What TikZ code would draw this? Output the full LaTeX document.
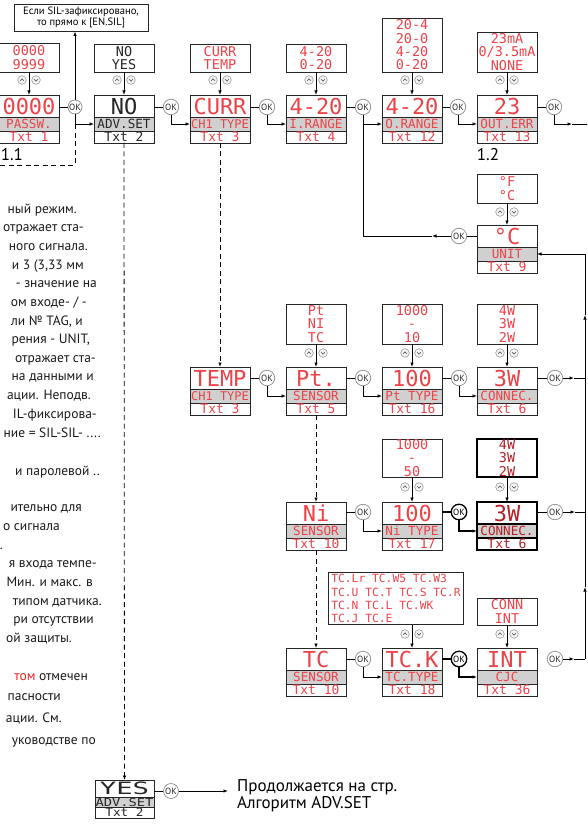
\documentclass[tikz,border=0pt]{standalone}
\usepackage{fontspec}
\usepackage{graphicx}
\setmainfont{PT Sans}
\newfontfamily\lcd{DejaVu Sans Mono}
\usetikzlibrary{arrows.meta}
\definecolor{lcdred}{RGB}{236,66,72}
\definecolor{darkred}{RGB}{180,32,40}
\definecolor{band}{RGB}{208,208,208}
\definecolor{hired}{RGB}{236,32,40}

\tikzset{
 bx/.style={draw=black!85,line width=0.9pt},
 valbox/.style={bx,minimum width=60pt,minimum height=22pt,inner sep=0pt,outer sep=0pt,anchor=north,text=lcdred,font=\lcd\fontsize{22}{22}\selectfont},
 labbox/.style={bx,fill=band,minimum width=60pt,minimum height=14pt,inner sep=0pt,outer sep=0pt,anchor=north,text=lcdred,font=\lcd\fontsize{12.6}{12.6}\selectfont},
 txtbox/.style={bx,minimum width=60pt,minimum height=12pt,inner sep=0pt,outer sep=0pt,anchor=north,text=lcdred,font=\lcd\fontsize{13}{13}\selectfont},
 optbox/.style={bx,minimum width=60pt,inner sep=0pt,outer sep=0pt,anchor=south,align=center,text=lcdred,font=\lcd\fontsize{13.5}{13.3}\selectfont},
 okc/.style={circle,draw=black!45,fill=white,minimum size=15.5pt,inner sep=0pt,line width=0.7pt,font=\fontsize{9}{9}\selectfont,text=black!85},
 okb/.style={okc,draw=black,line width=1.3pt,text=black},
 conn/.style={draw=black,line width=0.8pt},
 arr/.style={conn,-{Latex[length=4.5pt,width=3.5pt]}},
 dsh/.style={conn,dash pattern=on 5pt off 3.5pt},
 darr/.style={dsh,-{Latex[length=4.5pt,width=3.5pt]}},
 icon/.style={draw=black!40,fill=black!4,line width=0.6pt},
 chev/.style={draw=black!65,line width=0.6pt},
 body/.style={font=\fontsize{13.5}{13.5}\selectfont,anchor=mid east,inner sep=0pt,text=black!90},
}

\newcommand\dispbox[7][]{%
 \node[valbox,#1] (#2) at (#3,#4) {#5};
 \node[labbox,#1] (#2l) at (#2.south) {#6};
 \node[txtbox,#1] (#2t) at (#2l.south) {#7};
}
\newcommand\updn[2]{%
 \draw[icon] ({#1-7},#2) circle[radius=4.3pt];
 \draw[icon] ({#1+7},#2) circle[radius=4.3pt];
 \draw[chev] ({#1-9},{#2+1}) -- ({#1-7},{#2-1.2}) -- ({#1-5},{#2+1});
 \draw[chev] ({#1+5},{#2-1}) -- ({#1+7},{#2+1.2}) -- ({#1+9},{#2-1});
}

\begin{document}
\begin{tikzpicture}[x=1pt,y=-1pt]
\clip (0,0) rectangle (587,829);

% ---------- note box
\node[bx,minimum width=134pt,minimum height=27pt,inner sep=0pt,align=center,font=\fontsize{10.6}{10.5}\selectfont] (sil) at (81,17.5) {Если SIL-зафиксировано,\\то прямо к [EN.SIL]};

% ---------- row 1
\dispbox{pw}{29}{95}{0000}{PASSW.}{Txt 1}
\dispbox[text=black!85]{no}{124}{95}{NO}{ADV.SET}{Txt 2}
\dispbox{cu}{220}{95}{CURR}{{\fontsize{12}{12}\selectfont CH1 TYPE}}{Txt 3}
\dispbox{ir}{316}{95}{4-20}{I.RANGE}{Txt 4}
\dispbox{or}{412}{95}{4-20}{O.RANGE}{Txt 12}
\dispbox{oe}{507}{95}{23}{OUT.ERR}{Txt 13}

\node[optbox,minimum height=29pt] (pwo) at (29,72) {0000\\9999};
\node[optbox,minimum height=28pt,text=black!85] (noo) at (124,72) {NO\\YES};
\node[optbox,minimum height=28pt] (cuo) at (220,72) {CURR\\TEMP};
\node[optbox,minimum height=28pt] (iro) at (316,72) {4-20\\0-20};
\node[optbox,minimum height=54pt] (oro) at (412,72) {20-4\\20-0\\4-20\\0-20};
\node[optbox,minimum height=40pt] (oeo) at (507,72) {23mA\\0/3.5mA\\NONE};

\updn{29}{80} \updn{124}{80} \updn{220}{80} \updn{316}{80} \updn{412}{80} \updn{507}{80}
\draw[arr] (pwo.south) -- (pw.north);
\draw[arr] (noo.south) -- (no.north);
\draw[arr] (cuo.south) -- (cu.north);
\draw[arr] (iro.south) -- (ir.north);
\draw[arr] (oro.south) -- (or.north);
\draw[arr] (oeo.south) -- (oe.north);

\node[okc,minimum size=14pt] (okA) at (75,107) {OK};
\node[okc] (okB) at (171,107) {OK};
\node[okc] (okC) at (267,107) {OK};
\node[okc] (okD) at (363,107) {OK};
\node[okc] (okE) at (458,107) {OK};
\node[okc] (okF) at (554,107) {OK};

\draw[conn] (okA.west) -- (okA -| pw.east);
\draw[arr] (okA.north) -- (okA |- sil.south);
\coordinate (j1) at (okA |- nol.west);
\draw[arr] (okA.south) -- (j1) -- (nol.west);
\coordinate (dl) at (0,165);
\draw[dsh] (dl) -| (j1);
\draw[conn] (okB.west) -- (okB -| no.east);
\draw[arr] (okB.south) |- (cul.west);
\draw[conn] (okC.west) -- (okC -| cu.east);
\draw[arr] (okC.south) |- (irl.west);
\draw[conn] (okD.west) -- (okD -| ir.east);
\draw[arr] (okD.south) |- (orl.west);
\draw[conn] (okE.west) -- (okE -| or.east);
\draw[arr] (okE.south) |- (oel.west);
\draw[conn] (okF.west) -- (okF -| oe.east);
\coordinate (e1) at (572,124);
\coordinate (e2) at (588,124);
\draw[arr] (okF.south) |- (e1);
\draw[conn] (e1) -- (e2);

\node[font=\fontsize{17}{17}\selectfont,inner sep=0pt,anchor=west] (l11) at (0.6,155) {1.1};
\node[font=\fontsize{17}{17}\selectfont,inner sep=0pt] (l12) at (488,155) {1.2};

% ---------- UNIT
\dispbox{un}{507}{225}{°C}{UNIT}{Txt 9}
\node[optbox,minimum height=29pt] (uno) at (507,203) {°F\\°C};
\updn{507}{212}
\draw[arr] (uno.south) -- (un.north);
\node[okc] (okU) at (459,236) {OK};
\draw[conn] (okU.east) -- (okU -| un.west);
\coordinate (u1) at (432,236);
\draw[arr] (okU.west) -- (u1);
\draw[conn] (u1) -- (u1 -| okD) -- (okD |- orl.west);

% ---------- TEMP row
\dispbox{te}{220}{367}{TEMP}{{\fontsize{12}{12}\selectfont CH1 TYPE}}{Txt 3}
\dispbox{pt}{316}{367}{Pt.}{SENSOR}{Txt 5}
\dispbox{pty}{412}{367}{100}{Pt TYPE}{Txt 16}
\dispbox{cn}{507}{367}{3W}{CONNEC.}{Txt 6}
\node[optbox,minimum height=40pt] (pto) at (316,344) {Pt\\NI\\TC};
\node[optbox,minimum height=40pt] (ptyo) at (412,344) {1000\\-\\10};
\node[optbox,minimum height=40pt] (cno) at (507,344) {4W\\3W\\2W};
\updn{316}{353} \updn{412}{353} \updn{507}{353}
\draw[arr] (pto.south) -- (pt.north);
\draw[arr] (ptyo.south) -- (pty.north);
\draw[arr] (cno.south) -- (cn.north);

\node[okc] (okT) at (267,378) {OK};
\node[okc] (okP) at (363,378) {OK};
\node[okc] (okQ) at (459,378) {OK};
\node[okc] (okR) at (555,378) {OK};
\draw[conn] (okT.west) -- (okT -| te.east);
\draw[arr] (okT.south) |- (ptl.west);
\draw[conn] (okP.west) -- (okP -| pt.east);
\draw[arr] (okP.south) |- (ptyl.west);
\draw[conn] (okQ.west) -- (okQ -| pty.east);
\draw[arr] (okQ.south) |- (cnl.west);
\draw[conn] (okR.west) -- (okR -| cn.east);
\coordinate (r1) at (574,378);
\coordinate (r2) at (585,378);
\draw[arr] (okR.east) -- (r1);
\draw[conn] (r1) -- (r2);

% ---------- Ni row
\dispbox{ni}{316}{502}{Ni}{SENSOR}{Txt 10}
\dispbox{nty}{412}{502}{100}{Ni TYPE}{Txt 17}
\dispbox[text=darkred,line width=1.3pt,draw=black]{cnn}{507}{502}{3W}{CONNEC.}{Txt 6}
\node[optbox,minimum height=38pt] (ntyo) at (412,477) {1000\\-\\50};
\node[optbox,minimum height=38pt,text=darkred,line width=1.3pt,draw=black] (cnno) at (507,477) {4W\\3W\\2W};
\updn{412}{487} \updn{507}{487}
\draw[arr] (ntyo.south) -- (nty.north);
\draw[arr] (cnno.south) -- (cnn.north);

\node[okc] (okN) at (363,512) {OK};
\node[okb] (okN2) at (459,512) {OK};
\node[okc] (okN3) at (555,512) {OK};
\draw[conn] (okN.west) -- (okN -| ni.east);
\draw[arr] (okN.south) |- (ntyl.west);
\draw[conn,line width=1.4pt] (okN2.west) -- (okN2 -| nty.east);
\draw[arr,line width=1.4pt] (okN2.south) |- (cnnl.west);
\draw[conn] (okN3.west) -- (okN3 -| cnn.east);
\coordinate (n1) at (575,512);
\coordinate (n2) at (585,512);
\draw[arr] (okN3.east) -- (n1);
\draw[conn] (n1) -- (n2);

% ---------- TC row
\dispbox{tc}{316}{648}{TC}{SENSOR}{Txt 10}
\dispbox{tk}{412}{648}{TC.K}{TC.TYPE}{Txt 18}
\dispbox{in}{507}{648}{INT}{CJC}{Txt 36}
\node[bx,minimum width=135pt,minimum height=52pt,anchor=south west,align=left,inner sep=0pt,text=lcdred,font=\lcd\fontsize{11.3}{13.3}\selectfont] (tko) at (328,625) {TC.Lr TC.W5 TC.W3\\TC.U TC.T TC.S TC.R\\TC.N TC.L TC.WK\\TC.J TC.E};
\node[optbox,minimum height=27pt] (ino) at (507,625) {CONN\\INT};
\updn{412}{634} \updn{507}{634}
\draw[arr] (tko.south -| tk.north) -- (tk.north);
\draw[arr] (ino.south) -- (in.north);

\node[okc] (okTC) at (363,659) {OK};
\node[okb] (okK) at (459,659) {OK};
\node[okc] (okI) at (555,659) {OK};
\draw[conn] (okTC.west) -- (okTC -| tc.east);
\draw[arr] (okTC.south) |- (tkl.west);
\draw[conn,line width=1.4pt] (okK.west) -- (okK -| tk.east);
\draw[arr,line width=1.4pt] (okK.south) |- (inl.west);
\coordinate (bTC) at (585,659);
\coordinate (t1) at (574,659);
\draw[arr] (okI.east) -- (t1);
\draw[conn] (t1) -- (bTC);

% ---------- right bus
\coordinate (bm1) at (585,587);
\coordinate (bm2) at (585,315);
\coordinate (bU) at (unl.east -| bTC);
\draw[arr] (bTC) -- (bm1);
\draw[arr] (bm1) -- (bm2);
\draw[arr] (bm2) -- (bU) -- (unl.east);

% ---------- dashed links
\draw[darr] (cut.south) -- (te.north);
\draw[darr] (ptt.south) -- (ni.north);
\draw[darr] (nit.south) -- (tc.north);

% ---------- YES
\node[valbox,text=black!85,minimum width=59pt,minimum height=17pt,font=\lcd\fontsize{17}{17}\selectfont] (ye) at (124.5,780) {\scalebox{1.6}[1]{YES}};
\node[labbox,text=black!85,minimum width=59pt,minimum height=10pt,font=\lcd\fontsize{11}{11}\selectfont] (yel) at (ye.south) {\scalebox{1.25}[1]{ADV.SET}};
\node[txtbox,text=black!85,minimum width=59pt,minimum height=11pt,font=\lcd\fontsize{11.5}{11.5}\selectfont] (yet) at (yel.south) {\scalebox{1.1}[1]{Txt 2}};
\draw[darr] (not.south) -- (ye.north);
\node[okc,minimum size=15pt] (okY) at (171,791) {OK};
\draw[conn] (okY.west) -- (okY -| ye.east);
\coordinate (ya) at (228,791);
\draw[arr] (okY.east) -- (ya);
\node[anchor=north west,inner sep=0pt,align=left,font=\fontsize{17}{17}\selectfont] (cont) at (237,779) {Продолжается на стр.\\Алгоритм ADV.SET};

% ---------- left text (cut off in the source)
\node[body] (p1) at (77,210.5) {ный режим.};
\node[body] (p2) at (84,229) {отражает ста-};
\node[body] (p3) at (88,248) {ного сигнала.};
\node[body] (p4) at (84,266.5) {и 3 (3,33 мм};
\node[body] (p5) at (97,285) {- значение на};
\node[body] (p6) at (87,304) {ом входе- / -};
\node[body] (p7) at (83,322.5) {ли № TAG, и};
\node[body] (p8) at (90,341) {рения - UNIT,};
\node[body] (p9) at (96,360) {отражает ста-};
\node[body] (p10) at (94,378) {на данными и};
\node[body] (p11) at (91,397) {ации. Неподв.};
\node[body] (p12) at (97,416) {IL-фиксирова-};
\node[body] (p13) at (101,434.5) {ние = SIL-SIL- ....};
\node[body] (p14) at (100,473) {и паролевой ..};
\node[body] (p15) at (82,509) {ительно для};
\node[body] (p16) at (60,528) {о сигнала};
\node[body] (p17) at (3,547) {.};
\node[body] (p18) at (97,565) {я входа темпе-};
\node[body] (p19) at (93,584) {Мин. и макс. в};
\node[body] (p20) at (102,603) {типом датчика.};
\node[body] (p21) at (94,621) {ри отсутствии};
\node[body] (p22) at (72,640) {ой защиты.};
\node[body] (p23) at (88,678) {\textcolor{hired}{том} отмечен};
\node[body] (p24) at (61,698) {пасности};
\node[body] (p25) at (62,720) {ации. См.};
\node[body] (p26) at (96,742) {уководстве по};
\end{tikzpicture}
\end{document}
